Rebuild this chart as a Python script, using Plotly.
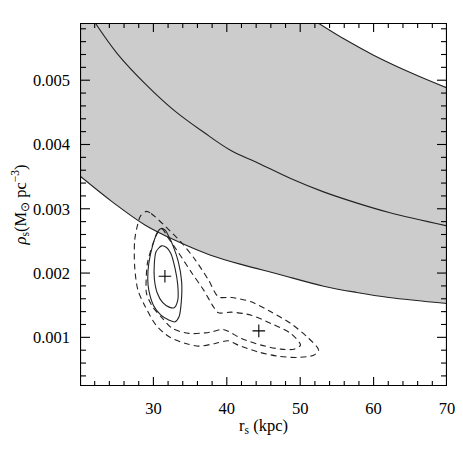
import plotly.graph_objects as go

# axis limits and ticks
x_range = [20, 70]
y_range = [0.000243, 0.00589]
x_major = [30, 40, 50, 60, 70]
x_minor = [22, 24, 26, 28, 32, 34, 36, 38, 42, 44, 46, 48, 52, 54, 56, 58, 62, 64, 66, 68]
y_major = [0.001, 0.002, 0.003, 0.004, 0.005]
y_minor = [0.0004, 0.0006, 0.0008, 0.0012, 0.0014, 0.0016, 0.0018, 0.0022, 0.0024,
           0.0026, 0.0028, 0.0032, 0.0034, 0.0036, 0.0038, 0.0042, 0.0044, 0.0046,
           0.0048, 0.0052, 0.0054, 0.0056, 0.0058]

# lower edge of the shaded band
lower_x = [20, 24.4, 28.9, 33.4, 37.8, 42.3, 46.8, 53.2, 57.7, 62.1, 70]
lower_y = [0.00351, 0.003108, 0.002745, 0.002486, 0.002278, 0.002123, 0.00199,
           0.001796, 0.001698, 0.00162, 0.001527]

# middle line
mid_x = [22.08, 25.07, 29.1, 32.9, 36.9, 40.5, 44.23, 48.7, 53.18, 57.65, 62.12, 70]
mid_y = [0.00589, 0.005415, 0.00492, 0.004523, 0.004187, 0.003911, 0.003714,
         0.003471, 0.003263, 0.003092, 0.002942, 0.002734]

# upper edge of the shaded band
upper_x = [52.3, 56, 60, 65, 70]
upper_y = [0.0059, 0.00564, 0.00539, 0.00512, 0.00488]

# solid contours
solid_in_x = [30.13, 30.36, 31.11, 31.79, 32.38, 32.95, 33.32, 33.32, 32.82, 32.15,
              31.25, 30.50, 30.13, 30.13]
solid_in_y = [0.002149, 0.00233, 0.002423, 0.002398, 0.002305, 0.002072, 0.001812,
              0.001579, 0.001459, 0.00147, 0.001543, 0.001698, 0.001916, 0.002149]
solid_out_x = [31.03, 31.61, 32.05, 32.68, 33.40, 33.85, 33.80, 33.49, 32.95, 32.15,
               31.03, 30.0, 29.37, 29.23, 29.37, 29.91, 30.58, 31.03]
solid_out_y = [0.002694, 0.002667, 0.002579, 0.002423, 0.002174, 0.001863, 0.001552,
               0.001319, 0.001241, 0.001267, 0.001345, 0.001501, 0.001734, 0.001916,
               0.002149, 0.002434, 0.002641, 0.002694]

# dashed contours
dash_in_x = [31.21, 31.92, 33.49, 35.28, 36.85, 38.19, 38.86, 40.64, 43.33, 46.01,
             48.70, 50.04, 49.15, 47.36, 44.67, 41.99, 39.53, 37.96, 37.07, 34.83,
             32.59, 31.25, 29.91, 29.06, 29.02, 29.19, 29.87, 30.54, 31.21]
dash_in_y = [0.002683, 0.002563, 0.002305, 0.001994, 0.001734, 0.001474, 0.001381,
             0.001392, 0.001345, 0.001216, 0.001061, 0.000879, 0.000816, 0.000816,
             0.000879, 0.000983, 0.001123, 0.001086, 0.00107, 0.001061, 0.001138,
             0.001294, 0.001474, 0.001683, 0.001916, 0.002154, 0.002434, 0.002621,
             0.002683]
dash_out_x = [29.06, 29.69, 31.70, 33.93, 35.73, 37.52, 38.86, 40.64, 43.33, 46.01,
              48.70, 50.94, 52.51, 51.84, 49.60, 46.91, 44.23, 41.54, 40.20, 38.42,
              36.17, 34.39, 32.15, 30.36, 28.79, 27.89, 27.45, 27.45, 27.89, 28.25,
              29.06]
dash_out_y = [0.00296, 0.002927, 0.002719, 0.00246, 0.002201, 0.00189, 0.00163,
              0.00162, 0.001552, 0.001397, 0.001216, 0.001008, 0.000801, 0.000723,
              0.000687, 0.000708, 0.000774, 0.000879, 0.000946, 0.000905, 0.000863,
              0.000905, 0.001008, 0.00119, 0.001501, 0.001734, 0.002096, 0.002512,
              0.002771, 0.00289, 0.00296]

# best-fit points
best_x = [31.57, 44.36]
best_y = [0.00195, 0.0011]

LINE = "#222222"
FONT = dict(family="Liberation Serif, Times New Roman, serif", size=16.5, color="black")

# figure geometry (the page body adds an 8px margin, so the figure fits inside it)
W, H = 447, 440
M = dict(l=72, r=8, t=15, b=62)
px_x = (x_range[1] - x_range[0]) / (W - M["l"] - M["r"])
px_y = (y_range[1] - y_range[0]) / (H - M["t"] - M["b"])

fig = go.Figure()

# shaded band: lower edge, then upper edge closed along the top of the frame
fig.add_trace(go.Scatter(x=lower_x, y=lower_y, mode="lines",
                         line=dict(width=0, shape="spline"), hoverinfo="skip"))
fig.add_trace(go.Scatter(x=[x_range[0]] + upper_x, y=[y_range[1]] + upper_y, mode="lines",
                         line=dict(width=0), fill="tonexty", fillcolor="#cccccc",
                         hoverinfo="skip"))

for xs, ys in [(lower_x, lower_y), (mid_x, mid_y), (upper_x, upper_y)]:
    fig.add_trace(go.Scatter(x=xs, y=ys, mode="lines",
                             line=dict(color=LINE, width=1.1, shape="spline")))

for xs, ys in [(solid_in_x, solid_in_y), (solid_out_x, solid_out_y)]:
    fig.add_trace(go.Scatter(x=xs, y=ys, mode="lines",
                             line=dict(color=LINE, width=1.1, shape="spline", smoothing=0.8)))

for xs, ys in [(dash_in_x, dash_in_y), (dash_out_x, dash_out_y)]:
    fig.add_trace(go.Scatter(x=xs, y=ys, mode="lines",
                             line=dict(color=LINE, width=1.1, shape="spline", smoothing=0.8,
                                       dash="6px,4px")))

fig.add_trace(go.Scatter(x=best_x, y=best_y, mode="markers",
                         marker=dict(symbol="cross-thin", size=9,
                                     line=dict(color="black", width=1.1))))


# inward tick marks on all four sides, drawn as short line segments
def x_ticks(vals, length):
    xs, ys = [], []
    for v in vals:
        xs += [v, v, None, v, v, None]
        ys += [y_range[0], y_range[0] + length * px_y, None,
               y_range[1], y_range[1] - length * px_y, None]
    return xs, ys


def y_ticks(vals, length):
    xs, ys = [], []
    for v in vals:
        xs += [x_range[0], x_range[0] + length * px_x, None,
               x_range[1], x_range[1] - length * px_x, None]
        ys += [v, v, None, v, v, None]
    return xs, ys


for xs, ys in [x_ticks(x_major, 9), x_ticks(x_minor, 5), y_ticks(y_major, 10), y_ticks(y_minor, 6)]:
    fig.add_trace(go.Scatter(x=xs, y=ys, mode="lines", hoverinfo="skip",
                             line=dict(color="black", width=1.1)))

# frame along the axis limits (half of the stroke falls outside and is clipped)
fig.add_trace(go.Scatter(
    x=[x_range[0], x_range[1], x_range[1], x_range[0], x_range[0]],
    y=[y_range[0], y_range[0], y_range[1], y_range[1], y_range[0]],
    mode="lines", hoverinfo="skip", line=dict(color="black", width=2.2)))

axis_common = dict(
    showline=False, ticks="", showgrid=False, zeroline=False,
    tickfont=FONT, automargin=False, ticklabeloverflow="allow",
)

fig.update_xaxes(range=x_range, tickvals=x_major, ticklabelstandoff=10,
                 title=dict(text="r<sub>s</sub> (kpc)", font=FONT, standoff=2),
                 **axis_common)
fig.update_yaxes(range=y_range, tickvals=y_major, tickformat=".3f", ticklabelstandoff=9,
                 title=dict(text="<i>ρ</i><sub>s</sub>(M<sub>⊙</sub> pc<sup>−3</sup>)",
                            font=FONT, standoff=2),
                 **axis_common)

fig.update_layout(
    width=W, height=H, margin=M,
    plot_bgcolor="white", paper_bgcolor="white",
    showlegend=False, font=FONT,
)

fig.write_html("out.html")
